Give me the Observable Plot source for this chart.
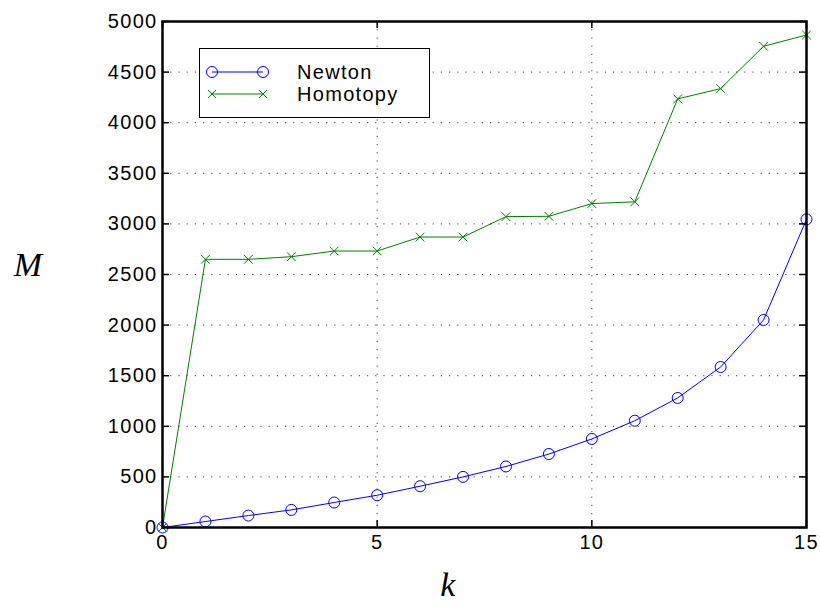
<!DOCTYPE html>
<html><head><meta charset="utf-8">
<script src="https://cdn.jsdelivr.net/npm/d3@7"></script>
<script src="https://cdn.jsdelivr.net/npm/@observablehq/plot@0.6"></script>
<style>
body{margin:0;background:#fff;}
#wrap{position:relative;width:820px;height:613px;}
#wrap svg text{letter-spacing:1.3px;}
#legend{position:absolute;left:199px;top:48px;width:231px;height:70px;border:1.5px solid #000;background:#fff;box-sizing:border-box;}
#legend svg{position:absolute;left:0;top:0;}
</style></head><body>
<div id="wrap"></div>
<script>
const kValues = [0,1,2,3,4,5,6,7,8,9,10,11,12,13,14,15];
const newton = [0,59,118,174,247,319,408,500,603,726,875,1055,1280,1586,2051,3045];
const homotopy = [0,2650,2650,2676,2732,2732,2870,2870,3072,3075,3201,3218,4235,4337,4755,4867];
const seriesNames = ["Newton","Homotopy"];
const seriesColors = ["#0000ff","#008000"];
const xTicks = [0,5,10,15];
const yTicks = [0,500,1000,1500,2000,2500,3000,3500,4000,4500,5000];

const W = 820, H = 613, mL = 162, mR = 14, mT = 21, mB = 86;
const fw = W - mL - mR, fh = H - mT - mB, tl = 7;

const nData = kValues.map((k,i)=>({k, v: newton[i]}));
const hData = kValues.map((k,i)=>({k, v: homotopy[i]}));

const chart = Plot.plot({
  width: W, height: H,
  marginLeft: mL, marginRight: mR, marginTop: mT, marginBottom: mB,
  style: {fontFamily: "Liberation Sans, Arial, sans-serif", fontSize: "20px", color: "#000", background: "#fff"},
  x: {domain: [0,15]},
  y: {domain: [0,5000]},
  marks: [
    Plot.gridX(xTicks.slice(1,-1), {stroke: "#000", strokeOpacity: 0.75, strokeDasharray: "1.2,7", strokeWidth: 1}),
    Plot.gridY(yTicks.slice(1,-1), {stroke: "#000", strokeOpacity: 0.75, strokeDasharray: "1.2,7", strokeWidth: 1}),
    Plot.line(nData, {x: "k", y: "v", stroke: seriesColors[0], strokeWidth: 1}),
    Plot.dot(nData, {x: "k", y: "v", stroke: seriesColors[0], r: 5.5, strokeWidth: 1}),
    Plot.line(hData, {x: "k", y: "v", stroke: seriesColors[1], strokeWidth: 1}),
    Plot.dot(hData, {x: "k", y: "v", stroke: seriesColors[1], symbol: "times", r: 4, strokeWidth: 1}),
    Plot.tickY(yTicks, {y: d=>d, insetRight: fw - tl, stroke: "#000", strokeWidth: 1.5}),
    Plot.tickY(yTicks, {y: d=>d, insetLeft: fw - tl, stroke: "#000", strokeWidth: 1.5}),
    Plot.tickX(xTicks, {x: d=>d, insetTop: fh - tl, stroke: "#000", strokeWidth: 1.5}),
    Plot.tickX(xTicks, {x: d=>d, insetBottom: fh - tl, stroke: "#000", strokeWidth: 1.5}),
    Plot.frame({stroke: "#000", strokeWidth: 2.5}),
    Plot.axisY(yTicks, {tickSize: 0, tickPadding: 5, label: null, fontSize: 20, tickFormat: d => String(d)}),
    Plot.axisX(xTicks, {tickSize: 0, tickPadding: 7, label: null, fontSize: 20, tickFormat: d => String(d)}),
    Plot.text(["M"], {frameAnchor: "left", dx: -134, dy: -9, text: d=>d, fontSize: 34, fontStyle: "italic", fontFamily: "Liberation Serif, Times New Roman, serif", textAnchor: "middle"}),
    Plot.text(["k"], {frameAnchor: "bottom", dx: -36, dy: 68, text: d=>d, fontSize: 34, fontStyle: "italic", fontFamily: "Liberation Serif, Times New Roman, serif", textAnchor: "middle"})
  ]
});
document.getElementById("wrap").appendChild(chart);

// legend
const leg = document.createElement("div");
leg.id = "legend";
const svg = d3.create("svg").attr("width", 229).attr("height", 68);
seriesNames.forEach((name, i) => {
  const y = 23 + i * 22;
  const g = svg.append("g");
  g.append("line").attr("x1", 12).attr("x2", 63).attr("y1", y).attr("y2", y).attr("stroke", seriesColors[i]).attr("stroke-width", 1);
  [12, 63].forEach(x => {
    if (i === 0) g.append("circle").attr("cx", x).attr("cy", y).attr("r", 5.5).attr("fill", "none").attr("stroke", seriesColors[i]);
    else g.append("path").attr("d", `M${x-4},${y-4}L${x+4},${y+4}M${x-4},${y+4}L${x+4},${y-4}`).attr("stroke", seriesColors[i]).attr("fill", "none");
  });
  g.append("text").attr("x", 97).attr("y", y + 7).attr("font-family", "Liberation Sans, Arial, sans-serif").attr("font-size", 20).attr("letter-spacing", "1.3px").text(name);
});
leg.appendChild(svg.node());
document.getElementById("wrap").appendChild(leg);
</script>
</body></html>
